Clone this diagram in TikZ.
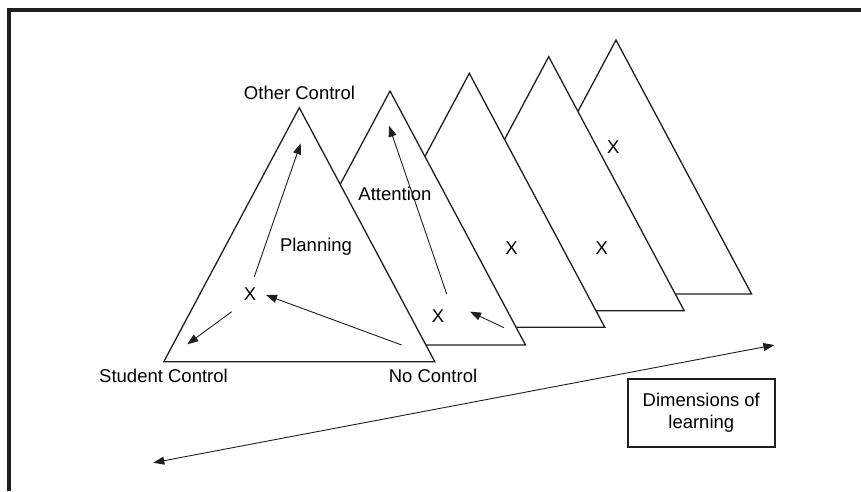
\documentclass[tikz,border=0pt]{standalone}
\usepackage{fontspec}
\setmainfont{Liberation Sans}
\usetikzlibrary{arrows.meta}
\begin{document}
\begin{tikzpicture}[x=1pt,y=-1pt,
  ink/.style={draw=black!88},
  tri/.style={ink, line width=1.3pt, fill=white, line join=miter},
  lbl/.style={font=\fontsize{18.5}{22}\selectfont, inner sep=0pt, anchor=base},
  arr/.style={ink, line width=0.9pt, -{Triangle[length=11pt,width=8pt]}},
  dimbox/.style={ink, line width=1.8pt, minimum width=147pt, minimum height=68pt,
    align=center, inner sep=0pt, font=\fontsize{18.5}{22}\selectfont},
]
\useasboundingbox (0,0) rectangle (861,491);
% frame
\draw[line width=3.8pt, black!88] (9.2,491) -- (9.2,10) -- (861,10);

% stacked triangles, back to front
\path[tri] (616,40)    -- ++(135.5,254) -- ++(-271,0) -- cycle;
\path[tri] (548.7,56.7) -- ++(135.5,254) -- ++(-271,0) -- cycle;
\path[tri] (469.3,73.3) -- ++(135.5,254) -- ++(-271,0) -- cycle;
\path[tri] (390,91)    -- ++(135.5,254) -- ++(-271,0) -- cycle;
\path[tri] (299.3,107.7) -- ++(135.5,254) -- ++(-271,0) -- cycle;

% labels
\node[lbl] (other)   at (299.5,99.3)  {Other Control};
\node[lbl] (student) at (163.5,382.3) {Student Control};
\node[lbl] (none)    at (433,382.3)   {No Control};
\node[lbl] (plan)    at (316,251.7)   {Planning};
\node[lbl] (attn)    at (395,200)     {Attention};
\node[lbl] (x1) at (250,300.6)   {X};
\node[lbl] (x2) at (438,322.3)   {X};
\node[lbl] (x3) at (511.5,254.6) {X};
\node[lbl] (x4) at (601.7,254.6) {X};
\node[lbl] (x5) at (613.3,153.3) {X};

\node[dimbox, draw] (dims) at (701.3,412.8) {Dimensions of\\learning};

% arrow ends
\coordinate (p1s) at (254.3,276.7);
\coordinate (p1t) at (300.7,143.3);
\coordinate (s1s) at (231.7,311.7);
\coordinate (s1t) at (187.3,344.3);
\coordinate (n1s) at (401.7,345);
\coordinate (n1t) at (266,295);
\coordinate (p2s) at (446.7,294);
\coordinate (p2t) at (389,125.7);
\coordinate (n2s) at (504,327.7);
\coordinate (n2t) at (470,311.7);
\coordinate (dimL) at (153.3,462.7);
\coordinate (dimR) at (774.3,345);

\draw[arr] (p1s) -- (p1t);
\draw[arr] (s1s) -- (s1t);
\draw[arr] (n1s) -- (n1t);
\draw[arr] (p2s) -- (p2t);
\draw[arr] (n2s) -- (n2t);
\draw[ink, line width=0.9pt, {Triangle[length=11pt,width=8pt]}-{Triangle[length=11pt,width=8pt]}] (dimL) -- (dimR);
\end{tikzpicture}
\end{document}
